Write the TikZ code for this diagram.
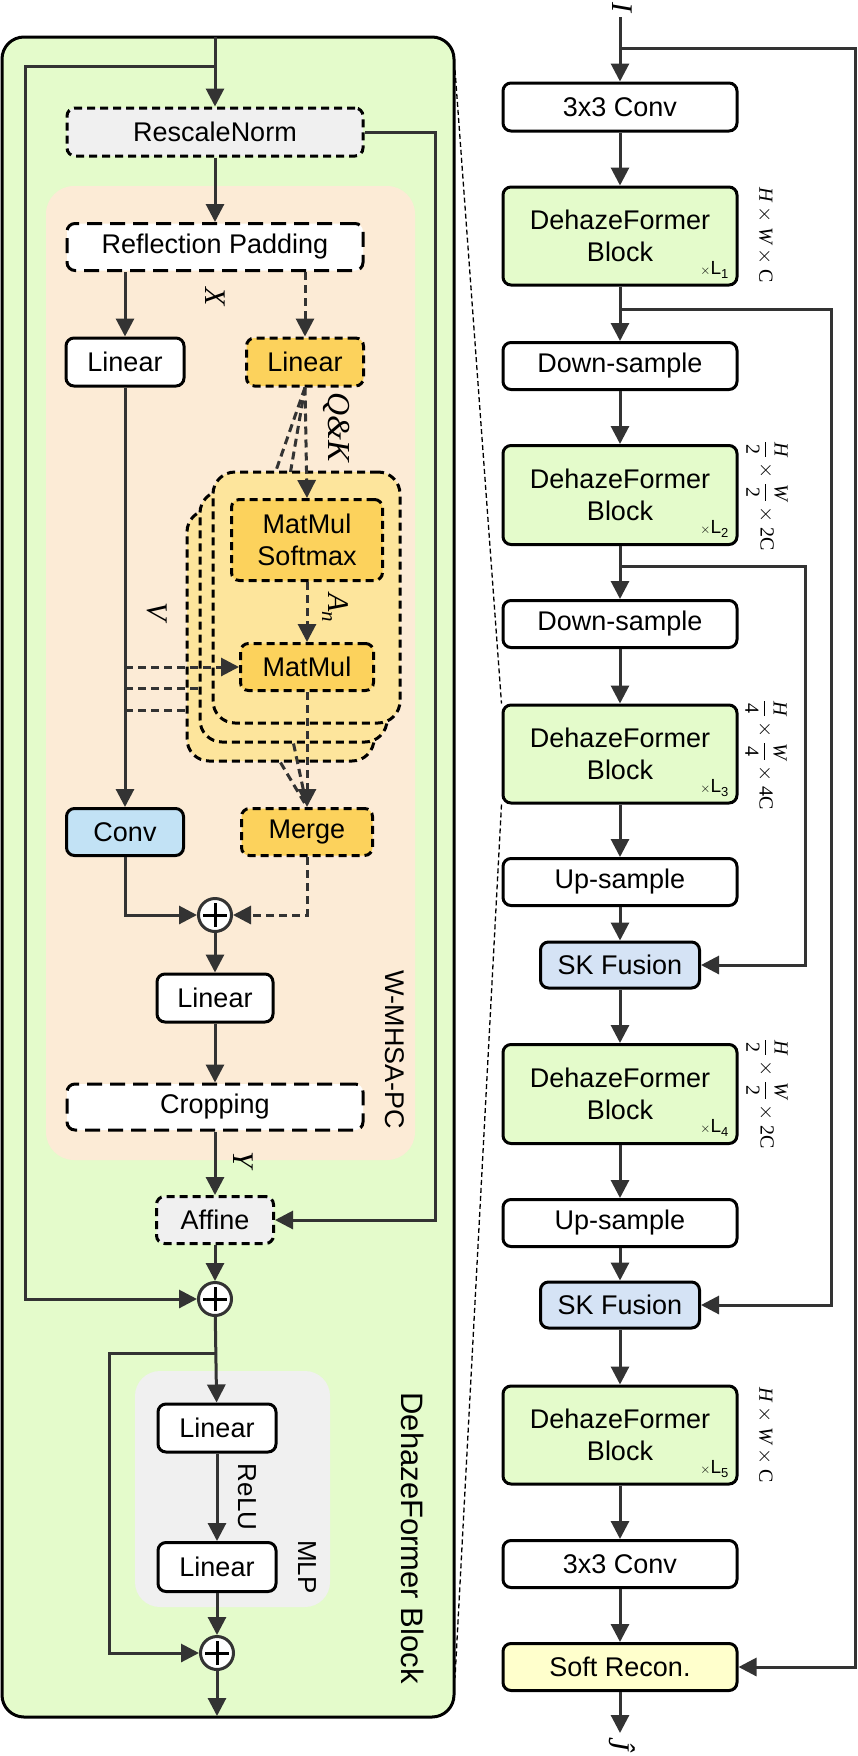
\documentclass[tikz,border=0pt]{standalone}
\usepackage{amsmath}
\usepackage{graphicx}
\usepackage{fontspec}
\newfontfamily\arialf{Liberation Sans}
\newfontfamily\timesf{Liberation Serif}
\usetikzlibrary{arrows.meta,calc}
\definecolor{bggreen}{HTML}{E4FBCB}
\definecolor{bgorange}{HTML}{FCEBD6}
\definecolor{bggray}{HTML}{F0F0F0}
\definecolor{orbox}{HTML}{FCD25C}
\definecolor{stkyel}{HTML}{FDE59C}
\definecolor{convblue}{HTML}{C2E2F5}
\definecolor{skblue}{HTML}{D5E3F5}
\definecolor{srecon}{HTML}{FFFFCC}
\definecolor{cgray}{HTML}{333333}
\newcommand\fsz[2]{\fontsize{#1}{#2}\selectfont}
\newcommand\xL[1]{{\scalebox{1.3}{$\times$}}{\arialf\fsz{19}{19}L\raisebox{-4pt}{\fsz{13}{13}#1}}}
\newcommand\ti[1]{\text{\timesf\itshape #1}}
\newcommand\tu[1]{\text{\timesf #1}}
\begin{document}
\begin{tikzpicture}[x=1pt,y=-1pt,
 box/.style={draw=black,line width=3pt,rounded corners=8pt,inner sep=0pt,minimum height=48pt,align=center,font=\arialf\fsz{27}{32}},
 dbox/.style={box,dash pattern=on 8pt off 5pt},
 ldbox/.style={box,dash pattern=on 15pt off 8pt},
 stk/.style={draw=black,line width=3pt,dash pattern=on 8pt off 5pt,rounded corners=22pt,fill=stkyel,minimum width=187pt,minimum height=251pt,inner sep=0pt},
 conn/.style={draw=cgray,line width=3pt,-{Triangle[length=18pt,width=18pt]}},
 dconn/.style={conn,dash pattern=on 8pt off 5pt},
 dline/.style={draw=cgray,line width=3pt,dash pattern=on 8pt off 5pt},
 plusc/.style={circle,draw=cgray,line width=3pt,fill=white,minimum size=33pt,inner sep=0pt,
   path picture={\draw[black,line width=3pt]
     ([xshift=-12pt]path picture bounding box.center) -- ([xshift=12pt]path picture bounding box.center)
     ([yshift=-12pt]path picture bounding box.center) -- ([yshift=12pt]path picture bounding box.center);}},
 mlab/.style={rotate=-90,font=\timesf\itshape\fsz{30}{30},inner sep=0pt},
 tlab/.style={rotate=-90,font=\arialf\fsz{26}{26},inner sep=0pt},
 dlab/.style={rotate=-90,font=\fsz{20}{24},inner sep=0pt},
 xlab/.style={anchor=south east,inner sep=0pt},
 zline/.style={draw=black,line width=1.3pt,dash pattern=on 5pt off 3pt}
]
\useasboundingbox (0,0) rectangle (858,1756);
% regions
\draw[fill=bggreen,draw=black,line width=3pt,rounded corners=22pt] (2,37) rectangle (454,1717);
\fill[bgorange,rounded corners=28pt] (46,186) rectangle (415,1160);
\fill[bggray,rounded corners=25pt] (135,1371) rectangle (330,1607);

% left nodes
\node[dbox,fill=bggray,minimum width=296pt] (rn) at (215,132) {RescaleNorm};
\node[ldbox,fill=white,minimum width=296pt,minimum height=47pt] (rp) at (215,247) {Reflection Padding};
\node[box,fill=white,minimum width=118pt] (lin1) at (125,362) {Linear};
\node[dbox,fill=orbox,minimum width=117pt] (lin2) at (305,362) {Linear};
\node[stk] (st3) at (280.5,635.5) {};
\node[stk] (st2) at (293.5,616.5) {};
\node[stk] (st1) at (306.5,597.5) {};
\node[dbox,fill=orbox,minimum width=151pt,minimum height=81pt] (mms) at (307,540) {MatMul\\Softmax};
\node[dbox,fill=orbox,minimum width=133pt,minimum height=47pt] (mm) at (307,667) {MatMul};
\node[box,fill=convblue,minimum width=117pt,minimum height=47pt] (conv) at (125,832) {Conv};
\node[dbox,fill=orbox,minimum width=131pt,minimum height=47pt] (merge) at (307,832) {Merge};
\node[plusc] (p1) at (215,915) {};
\node[box,fill=white,minimum width=116pt] (lin3) at (215,998) {Linear};
\node[ldbox,fill=white,minimum width=296pt,minimum height=46pt] (crop) at (215,1107) {Cropping};
\node[dbox,fill=bggray,minimum width=117pt,minimum height=47pt] (aff) at (215,1220) {Affine};
\node[plusc] (p2) at (215,1299) {};
\node[box,fill=white,minimum width=118pt] (lin4) at (217,1428) {Linear};
\node[box,fill=white,minimum width=118pt,minimum height=49pt] (lin5) at (217,1567) {Linear};
\node[plusc] (p3) at (217,1653) {};

% left coordinates
\coordinate (topL) at (215,37);
\coordinate (b1) at (215,66);
\coordinate (b2) at (217,1353);
\coordinate (botL) at (217,1716);
\coordinate (v2s) at (125,688);
\coordinate (v2e) at (200,688);
\coordinate (v3s) at (125,710);
\coordinate (v3e) at (187,710);
\coordinate (vms) at (125,667);
\coordinate (qk2) at (290.5,472);
\coordinate (qk3) at (275.5,472);

% left connectors
\draw[conn] (topL) -- (rn);
\draw[conn] (b1) -- (25,66) |- (p2);
\draw[conn] (rn.east) -- (435,132) |- (aff);
\draw[conn] (rn) -- (rp);
\draw[conn] (rp.south -| lin1.north) -- (lin1);
\draw[dconn] (rp.south -| lin2.north) -- (lin2);
\draw[dconn] (lin2.south) -- (mms.north);
\draw[dline] (lin2.south) -- (qk2);
\draw[dline] (lin2.south) -- (qk3);
\draw[dconn] (mms) -- (mm);
\draw[conn] (lin1) -- (conv);
\draw[dconn] (vms) -- (mm.west);
\draw[dline] (v2s) -- (v2e);
\draw[dline] (v3s) -- (v3e);
\draw[dline] (st2.south) -- (merge.north);
\draw[dline] (st3.south) -- (merge.north);
\draw[dconn] (mm) -- (merge);
\draw[conn] (conv) |- (p1);
\draw[dconn] (merge) |- (p1);
\draw[conn] (p1) -- (lin3);
\draw[conn] (lin3) -- (crop);
\draw[conn] (crop) -- (aff);
\draw[conn] (aff) -- (p2);
\draw[conn] (p2) -- (lin4);
\draw[conn] (b2) -- (109,1353) |- (p3);
\draw[conn] (lin4) -- (lin5);
\draw[conn] (lin5) -- (p3);
\draw[conn] (p3) -- (botL);

% left labels
\node[mlab] (lX) at (215,297) {X};
\node[mlab,font=\timesf\itshape\fsz{32}{32}] (lQK) at (337,427) {Q\&K};
\node[mlab] (lV) at (157,612) {V};
\node[mlab] (lA) at (335,608) {A\raisebox{-6pt}{\fsz{21}{21}n}};
\node[mlab] (lY) at (243,1160) {Y};
\node[tlab,font=\arialf\fsz{27}{27}] (lW) at (395,1050) {W-MHSA-PC};
\node[tlab] (lR) at (247,1497) {ReLU};
\node[tlab] (lM) at (307,1567) {MLP};
\node[tlab,font=\arialf\fsz{31}{31}] (lD) at (413,1538) {DehazeFormer Block};

% right nodes
\node[box,fill=white,minimum width=234pt] (c1) at (620,107) {3x3 Conv};
\node[box,fill=bggreen,minimum width=234pt,minimum height=98pt] (d1) at (620,236) {DehazeFormer\\Block};
\node[box,fill=white,minimum width=234pt,minimum height=47pt] (ds1) at (620,366) {Down-sample};
\node[box,fill=bggreen,minimum width=234pt,minimum height=99pt] (d2) at (620,495) {DehazeFormer\\Block};
\node[box,fill=white,minimum width=234pt,minimum height=47pt] (ds2) at (620,624) {Down-sample};
\node[box,fill=bggreen,minimum width=234pt,minimum height=98pt] (d3) at (620,754) {DehazeFormer\\Block};
\node[box,fill=white,minimum width=234pt,minimum height=47pt] (us1) at (620,882) {Up-sample};
\node[box,fill=skblue,minimum width=159pt,minimum height=46pt] (sk1) at (620,965) {SK Fusion};
\node[box,fill=bggreen,minimum width=234pt,minimum height=99pt] (d4) at (620,1094) {DehazeFormer\\Block};
\node[box,fill=white,minimum width=234pt,minimum height=47pt] (us2) at (620,1223) {Up-sample};
\node[box,fill=skblue,minimum width=159pt,minimum height=46pt] (sk2) at (620,1305) {SK Fusion};
\node[box,fill=bggreen,minimum width=234pt,minimum height=98pt] (d5) at (620,1435) {DehazeFormer\\Block};
\node[box,fill=white,minimum width=234pt,minimum height=47pt] (c2) at (620,1564) {3x3 Conv};
\node[box,fill=srecon,minimum width=234pt,minimum height=47pt] (sr) at (620,1667) {Soft Recon.};

% xL labels
\node[xlab] (x1) at ([xshift=-10pt,yshift=8pt]d1.south east) {\xL{1}};
\node[xlab] (x2) at ([xshift=-10pt,yshift=8pt]d2.south east) {\xL{2}};
\node[xlab] (x3) at ([xshift=-10pt,yshift=8pt]d3.south east) {\xL{3}};
\node[xlab] (x4) at ([xshift=-10pt,yshift=8pt]d4.south east) {\xL{4}};
\node[xlab] (x5) at ([xshift=-10pt,yshift=8pt]d5.south east) {\xL{5}};

% dimension labels
\node[dlab] (dm1) at (765,235) {$\ti{H}\times\ti{W}\times\tu{C}$};
\node[dlab] (dm2) at (767,496) {$\dfrac{\ti{H}}{\tu{2}}\times\dfrac{\ti{W}}{\tu{2}}\times\tu{2C}$};
\node[dlab] (dm3) at (766,755) {$\dfrac{\ti{H}}{\tu{4}}\times\dfrac{\ti{W}}{\tu{4}}\times\tu{4C}$};
\node[dlab] (dm4) at (767,1094) {$\dfrac{\ti{H}}{\tu{2}}\times\dfrac{\ti{W}}{\tu{2}}\times\tu{2C}$};
\node[dlab] (dm5) at (765,1435) {$\ti{H}\times\ti{W}\times\tu{C}$};

% right coordinates
\coordinate (Itop) at (620,17);
\coordinate (bI) at (620,48);
\coordinate (bd1) at (620,309);
\coordinate (bd2) at (620,566);
\coordinate (Jout) at (620,1733);
\coordinate (z1) at (455,70);
\coordinate (z2) at (455,1678);

% right connectors
\draw[conn] (Itop) -- (c1);
\draw[conn] (bI) -- (855,48) |- (sr);
\draw[conn] (bd1) -- (831,309) |- (sk2);
\draw[conn] (bd2) -- (805,566) |- (sk1);
\foreach \a/\b in {c1/d1,d1/ds1,ds1/d2,d2/ds2,ds2/d3,d3/us1,us1/sk1,sk1/d4,d4/us2,us2/sk2,sk2/d5,d5/c2,c2/sr}
  \draw[conn] (\a) -- (\b);
\draw[conn] (sr) -- (Jout);

\node[mlab] (lI) at (622,7) {I};
\node[mlab] (lJ) at (622,1744) {\^J};

% zoom lines
\draw[zline] (z1) -- (d3.north west);
\draw[zline] (d3.south west) -- (z2);
\end{tikzpicture}
\end{document}
